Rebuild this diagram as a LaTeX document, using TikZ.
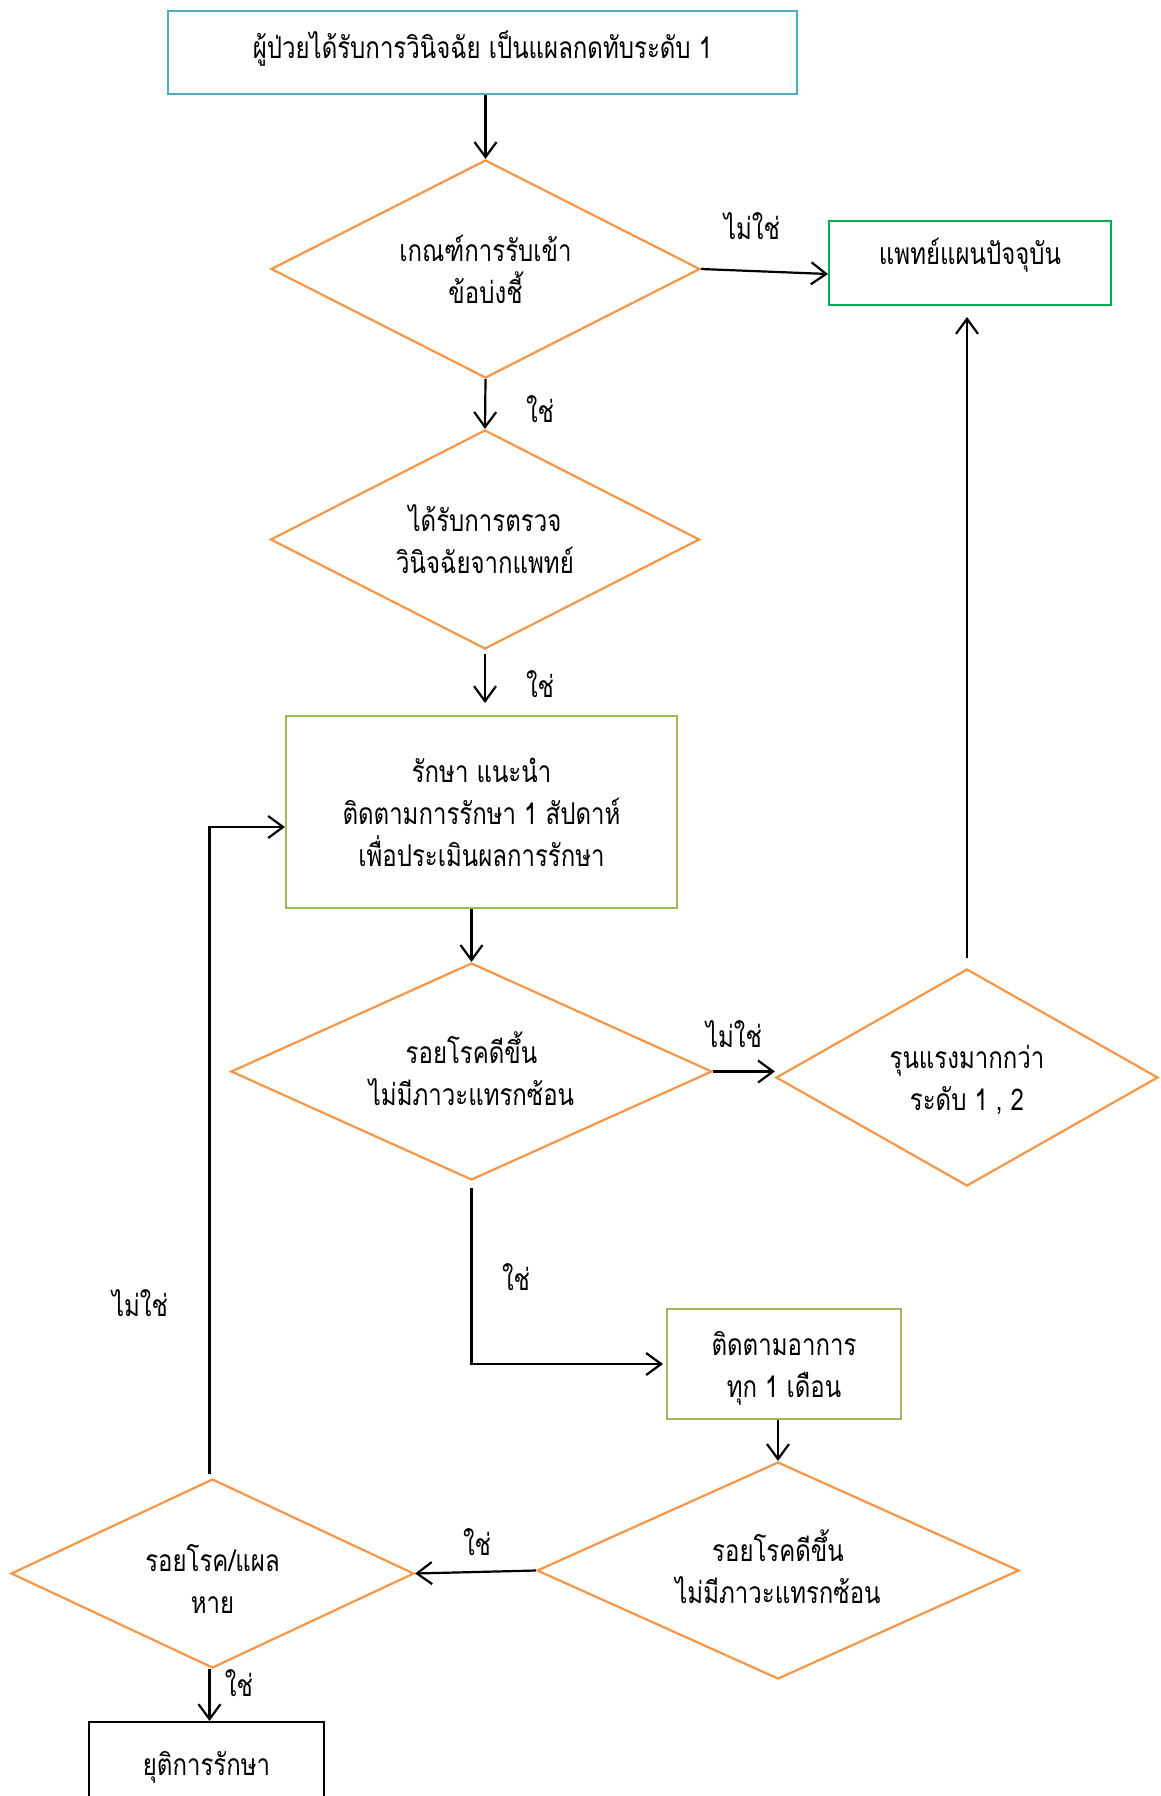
\documentclass[tikz,border=0pt]{standalone}
\usepackage{fontspec}
\newfontfamily\thaifont[Script=Thai,FakeStretch=0.8]{Loma}
\usetikzlibrary{shapes.geometric,arrows.meta}
\definecolor{cblue}{HTML}{4BACC6}
\definecolor{cgreen}{HTML}{00B050}
\definecolor{clgreen}{HTML}{9BBB59}
\definecolor{corange}{HTML}{F79646}
\begin{document}
\begin{tikzpicture}[x=1pt,y=-1pt,
  txt/.style={font=\thaifont\fontsize{30}{42}\selectfont,align=center},
  boxst/.style={txt,draw,line width=2pt,inner sep=0pt},
  dia/.style={diamond,draw=corange,line width=2.2pt,inner sep=0pt},
  dlab/.style={txt},
  arr/.style={line width=2.2pt,-{Straight Barb[length=15pt,width=22pt,line width=2.2pt]}},
  yn/.style={txt}]
\useasboundingbox (0,0) rectangle (1161,1796);
\clip (0,0) rectangle (1161,1796);

% boxes (text set slightly off-centre where needed)
\node[boxst,draw=cblue,minimum width=629pt,minimum height=83pt,
  label={[txt,yshift=4pt]center:ผู้ป่วยได้รับการวินิจฉัย เป็นแผลกดทับระดับ 1}] (start) at (482.5,52.5) {};
\node[boxst,draw=cgreen,minimum width=282pt,minimum height=84pt,
  label={[txt,yshift=8pt]center:แพทย์แผนปัจจุบัน}] (doc) at (970,263) {};
\node[boxst,draw=clgreen,minimum width=391pt,minimum height=192pt] (treat) at (481.5,812) {รักษา แนะนำ\\ติดตามการรักษา 1 สัปดาห์\\เพื่อประเมินผลการรักษา};
\node[boxst,draw=clgreen,minimum width=234pt,minimum height=110pt,
  label={[txt,yshift=-4pt]center:ติดตามอาการ\\ทุก 1 เดือน}] (follow) at (784,1364) {};
\node[boxst,draw=black,minimum width=235pt,minimum height=90pt] (stop) at (206.5,1767) {ยุติการรักษา};

% decisions
\node[dia,minimum width=429pt,minimum height=218pt,label={[dlab]center:เกณฑ์การรับเข้า\\ข้อบ่งชี้}] (d1) at (485.5,269) {};
\node[dia,minimum width=429pt,minimum height=219pt,label={[dlab]center:ได้รับการตรวจ\\วินิจฉัยจากแพทย์}] (d2) at (485,539.5) {};
\node[dia,minimum width=481pt,minimum height=217pt,label={[dlab,yshift=3pt]center:รอยโรคดีขึ้น\\ไม่มีภาวะแทรกซ้อน}] (d3) at (471.5,1071.5) {};
\node[dia,minimum width=382pt,minimum height=217pt,label={[dlab,yshift=-2pt]center:รุนแรงมากกว่า\\ระดับ 1 , 2}] (d4) at (967,1077.5) {};
\node[dia,minimum width=482pt,minimum height=217pt,label={[dlab,yshift=4pt]center:รอยโรคดีขึ้น\\ไม่มีภาวะแทรกซ้อน}] (d5) at (778,1570.5) {};
\node[dia,minimum width=403pt,minimum height=189pt,label={[dlab,yshift=-5pt]center:รอยโรค/แผล\\หาย}] (d6) at (212.5,1573.5) {};

% answers
\node[yn] (n1) at (752,226) {ไม่ใช่};
\node[yn] (y1) at (540,409) {ใช่};
\node[yn] (y2) at (540,684) {ใช่};
\node[yn] (n2) at (734,1034) {ไม่ใช่};
\node[yn] (y3) at (516,1277) {ใช่};
\node[yn] (n3) at (140,1303) {ไม่ใช่};
\node[yn] (y4) at (477,1542) {ใช่};
\node[yn] (y5) at (239,1683) {ใช่};

% connectors
\draw[arr] (start.south -| d1.north) -- (d1.north);
\draw[arr] (d1.east) -- ([yshift=-11pt]doc.west);
\draw[arr] (d1.south) -- (d2.north);
\draw[arr,shorten <=4pt,shorten >=12pt] (d2.south) -- (d2.south |- treat.north);
\draw[arr] (treat.south -| d3.north) -- (d3.north);
\draw[arr] (d3.east) -- (d3.east -| d4.west);
\draw[arr,shorten <=10pt,shorten >=11pt] (d4.north) -- (d4.north |- doc.south);
\draw[arr,shorten <=7pt,shorten >=3pt] (d3.south) |- (follow.west);
\draw[arr] (follow.south -| d5.north) -- (d5.north);
\draw[arr] (d5.west) -- (d6.east);
\draw[arr,shorten <=4pt] ([xshift=-3pt]d6.north) |- ([yshift=-15pt]treat.west);
\draw[arr] ([xshift=-3pt]d6.south) -- ([xshift=-3pt]d6.south |- stop.north);
\end{tikzpicture}
\end{document}
